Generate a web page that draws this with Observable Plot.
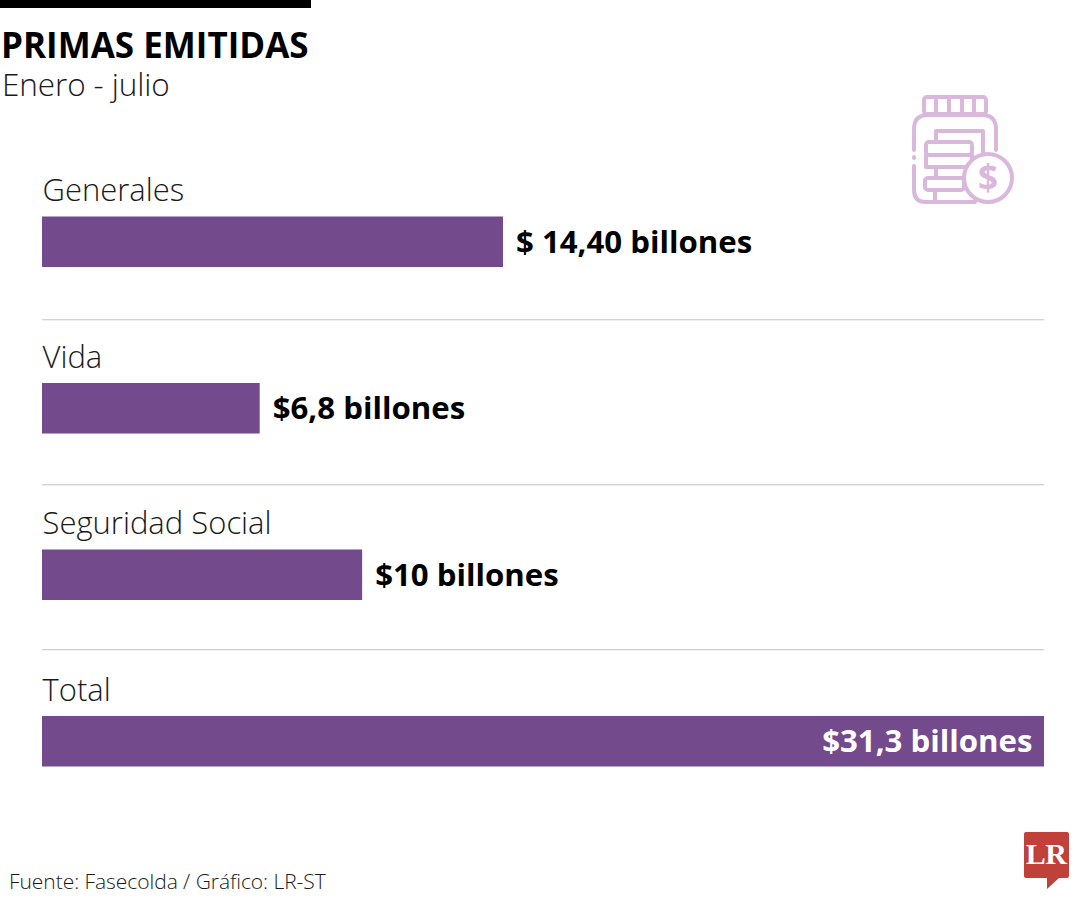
<!DOCTYPE html>
<html lang="es">
<head>
<meta charset="utf-8">
<script src="https://cdn.jsdelivr.net/npm/d3@7"></script>
<script src="https://cdn.jsdelivr.net/npm/@observablehq/plot@0.6"></script>
<style>
html,body{margin:0;padding:0;background:#fff;}
body{width:1080px;height:900px;position:relative;overflow:hidden;font-family:"Open Sans",sans-serif;color:#000;}
#rule{position:absolute;left:0;top:0;width:311px;height:8px;background:#000;}
#title{position:absolute;left:1px;top:26px;font-size:35px;line-height:38px;font-weight:700;letter-spacing:0;white-space:nowrap;margin:0;}
#subtitle{position:absolute;left:2px;top:64px;font-size:31.5px;line-height:40px;font-weight:300;letter-spacing:-.1px;color:#1a1a1a;white-space:nowrap;margin:0;}
#chart{position:absolute;left:0;top:110px;}
#chart svg{display:block;}
#source{position:absolute;left:9px;top:867px;font-size:21px;line-height:28px;font-weight:300;letter-spacing:-.05px;color:#1a1a1a;white-space:nowrap;}
#icon,#logo{position:absolute;left:0;top:0;}
</style>
</head>
<body>
<div id="rule"></div>
<h1 id="title">PRIMAS EMITIDAS</h1>
<p id="subtitle">Enero - julio</p>
<div id="chart"></div>
<div id="source">Fuente: Fasecolda / Gráfico: LR-ST</div>

<svg id="icon" width="1080" height="230" fill="none" stroke="#dab8dc" stroke-width="4" stroke-linejoin="round" stroke-linecap="round" aria-hidden="true">
  <rect x="924" y="97" width="62" height="17" rx="3"/>
  <path d="M936 97V114M949 97V114M962 97V114M974 97V114"/>
  <path d="M914 150V129Q914 115 928 115H982Q996 115 996 129V150"/>
  <path d="M914 157V158M914 166V190Q914 202 926 202H975"/>
  <path d="M965 142H936V131H983V153"/>
  <rect x="926" y="142" width="46" height="13" rx="3"/>
  <path d="M972 155V167H934"/>
  <path d="M926 155V167H934M936 167V178M966 178H934"/>
  <rect x="925" y="178" width="39" height="12" rx="3"/>
  <path d="M935 190V202"/>
  <circle cx="988" cy="178" r="24" fill="#fff"/>
  <text x="988" y="190" text-anchor="middle" font-family="Open Sans" font-size="35" font-weight="700" fill="#dab8dc" stroke="none">$</text>
</svg>

<svg id="logo" width="1080" height="900" aria-hidden="true">
  <path d="M1026 832H1067Q1069 832 1069 834V876Q1069 878 1067 878H1059L1047 889V878H1026Q1024 878 1024 876V834Q1024 832 1026 832Z" fill="#c0403a"/>
  <text x="1046" y="864" text-anchor="middle" font-family="Liberation Serif" font-weight="700" font-size="30" letter-spacing="-.5" fill="#fff">LR</text>
</svg>

<script>
const categories = ["Generales", "Vida", "Seguridad Social", "Total"];
const values = [14.4, 6.8, 10, 31.3];
const valueLabels = ["$ 14,40 billones", "$6,8 billones", "$10 billones", "$31,3 billones"];
const separators = ["Generales", "Vida", "Seguridad Social"];
const separatorOffsets = [77.5, 76, 74.5];

const rows = categories.map((category, i) => ({
  category,
  value: values[i],
  label: valueLabels[i],
  inside: category === "Total"
}));

const purple = "#734a8c";
const font = '"Open Sans", sans-serif';

const chart = Plot.plot({
  width: 1080,
  height: 690,
  marginTop: 0, marginRight: 0, marginBottom: 0, marginLeft: 0,
  style: {background: "transparent", fontFamily: font},
  x: {domain: [0, 31.3], range: [42, 1044], axis: null},
  y: {domain: categories, range: [106.5, 656.5], paddingInner: 0.6965, paddingOuter: 0, align: 0, round: false, axis: null},
  marks: [
    Plot.barX(rows, {x: "value", y: "category", fill: purple}),
    ...separators.map((s, i) => Plot.ruleY([s], {y: d => d, x1: 0, x2: 31.3, stroke: "#c4c4c4", strokeWidth: 1, dy: separatorOffsets[i]})),
    Plot.text(rows, {
      x: 0, y: "category", text: "category", textAnchor: "start",
      dy: -51, fontSize: 31, fontWeight: 300, fill: "#1a1a1a"
    }),
    Plot.text(rows.filter(d => !d.inside), {
      x: "value", y: "category", text: "label", textAnchor: "start",
      dx: 12.5, dy: 0.5, fontSize: 31.2, fontWeight: 700, fill: "#000", letterSpacing: "-0.6px"
    }),
    Plot.text(rows.filter(d => d.inside), {
      x: "value", y: "category", text: "label", textAnchor: "end",
      dx: -12, dy: 0.5, fontSize: 31.2, fontWeight: 700, fill: "#fff", letterSpacing: "-0.6px"
    })
  ]
});
document.getElementById("chart").appendChild(chart);
</script>
</body>
</html>
